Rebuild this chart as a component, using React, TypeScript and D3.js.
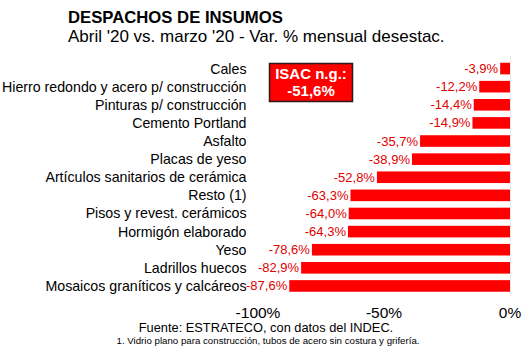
import React, { useEffect, useRef } from 'react';
import * as d3 from 'd3';

const categories = [
  'Cales',
  'Hierro redondo y acero p/ construcción',
  'Pinturas p/ construcción',
  'Cemento Portland',
  'Asfalto',
  'Placas de yeso',
  'Artículos sanitarios de cerámica',
  'Resto (1)',
  'Pisos y revest. cerámicos',
  'Hormigón elaborado',
  'Yeso',
  'Ladrillos huecos',
  'Mosaicos graníticos y calcáreos',
];
const values = [-3.9, -12.2, -14.4, -14.9, -35.7, -38.9, -52.8, -63.3, -64.0, -64.3, -78.6, -82.9, -87.6];
const ticks = [-100, -50, 0];
const isacLabel = ['ISAC n.g.:', '-51,6%'];

const fmt = (v: number) => v.toFixed(1).replace('.', ',') + '%';

const App = () => {
  const svgRef = useRef<SVGSVGElement>(null);

  useEffect(() => {
    const svg = d3.select(svgRef.current);
    svg.selectAll('*').remove();

    const font = 'Liberation Sans, Arial, sans-serif';
    const data = categories.map((c, i) => ({ c, v: values[i] }));

    const x = d3.scaleLinear().domain([-100, 0]).range([258, 510]);
    const y = d3.scaleBand().domain(categories).range([59.5, 295]).paddingInner(0.36).paddingOuter(0.18);

    svg.append('text')
      .attr('x', 68).attr('y', 23)
      .attr('font-family', font).attr('font-size', 16.7).attr('font-weight', 'bold')
      .text('DESPACHOS DE INSUMOS');
    svg.append('text')
      .attr('x', 68).attr('y', 41.5)
      .attr('font-family', font).attr('font-size', 17)
      .text("Abril '20 vs. marzo '20 - Var. % mensual desestac.");

    svg.append('line')
      .attr('x1', x(0) + 0.5).attr('x2', x(0) + 0.5)
      .attr('y1', 56).attr('y2', 296)
      .attr('stroke', '#e8e8e8').attr('stroke-width', 1);

    svg.selectAll('.bar')
      .data(data)
      .enter()
      .append('rect')
      .attr('class', 'bar')
      .attr('x', d => x(d.v))
      .attr('y', d => y(d.c)!)
      .attr('width', d => x(0) - x(d.v))
      .attr('height', y.bandwidth())
      .attr('fill', '#ff0000');

    svg.selectAll('.val')
      .data(data)
      .enter()
      .append('text')
      .attr('class', 'val')
      .attr('x', d => x(d.v) - 2)
      .attr('y', d => y(d.c)! + y.bandwidth() / 2)
      .attr('dy', '0.35em')
      .attr('text-anchor', 'end')
      .attr('font-family', font).attr('font-size', 13)
      .attr('fill', '#e00000')
      .text(d => fmt(d.v));

    svg.selectAll('.cat')
      .data(data)
      .enter()
      .append('text')
      .attr('class', 'cat')
      .attr('x', 246.5)
      .attr('y', d => y(d.c)! + y.bandwidth() / 2)
      .attr('dy', '0.35em')
      .attr('text-anchor', 'end')
      .attr('font-family', font).attr('font-size', 14.2)
      .attr('fill', '#000')
      .text(d => d.c);

    svg.selectAll('.tick')
      .data(ticks)
      .enter()
      .append('text')
      .attr('class', 'tick')
      .attr('x', d => x(d))
      .attr('y', 317.5)
      .attr('text-anchor', 'middle')
      .attr('font-family', font).attr('font-size', 15.5)
      .text(d => d + '%');

    svg.append('text')
      .attr('x', 266).attr('y', 331.5)
      .attr('text-anchor', 'middle')
      .attr('font-family', font).attr('font-size', 12.8)
      .text('Fuente: ESTRATECO, con datos del INDEC.');
    svg.append('text')
      .attr('x', 268).attr('y', 344)
      .attr('text-anchor', 'middle')
      .attr('font-family', font).attr('font-size', 9.7)
      .text('1. Vidrio plano para construcción, tubos de acero sin costura y grifería.');

    const box = svg.append('g');
    box.append('rect')
      .attr('x', 269.5).attr('y', 63.5)
      .attr('width', 83).attr('height', 38)
      .attr('fill', '#ff0000').attr('stroke', '#2a1a1a').attr('stroke-width', 1.5);
    box.selectAll('text')
      .data(isacLabel)
      .enter()
      .append('text')
      .attr('x', 311)
      .attr('y', (d, i) => 79 + i * 16.5)
      .attr('text-anchor', 'middle')
      .attr('font-family', font).attr('font-size', 15).attr('font-weight', 'bold')
      .attr('fill', '#fff')
      .text(d => d);
  }, []);

  return <svg ref={svgRef} width={530} height={354} style={{ position: 'absolute', left: 0, top: 0 }} />;
};

export default App;
